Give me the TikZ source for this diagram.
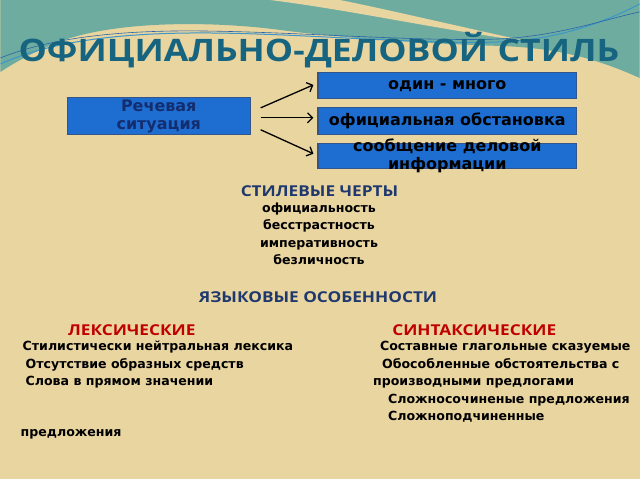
\documentclass[tikz,border=0pt]{standalone}
\usepackage{fontspec}
\setmainfont{DejaVu Sans}
\newfontfamily\headfont{Open Sans}
\usetikzlibrary{positioning, arrows.meta}

\definecolor{paper}{RGB}{233,213,160}
\definecolor{sea}{RGB}{110,172,160}
\definecolor{wave}{RGB}{60,150,200}
\definecolor{wavedark}{RGB}{40,100,170}
\definecolor{titleblue}{RGB}{22,100,128}
\definecolor{headblue}{RGB}{31,56,110}
\definecolor{boxblue}{RGB}{30,110,210}
\definecolor{boxline}{RGB}{50,85,140}
\definecolor{sitblue}{RGB}{20,45,110}
\definecolor{lexred}{RGB}{192,0,0}

\begin{document}
\begin{tikzpicture}[x=1pt, y=-1pt, node distance=17.5pt]

    \tikzset{
        bluebox/.style = {rectangle, draw=boxline, line width=1.2pt, fill=boxblue, inner sep=0pt},
        boxtext/.style = {font=\bfseries\fontsize{16}{18}\selectfont, align=center, inner sep=0pt},
        maintitle/.style = {font=\headfont\bfseries\fontsize{31}{36}\selectfont, text=titleblue, xscale=1.15, transform shape},
        heading/.style = {font=\headfont\bfseries\fontsize{15}{18}\selectfont, text=headblue, xscale=1.15, transform shape},
        feature/.style = {font=\bfseries\fontsize{12.6}{15}\selectfont, inner sep=0pt, text height=10pt, text depth=3pt},
        arrow/.style = {line width=1.3pt, ->, >={Straight Barb[length=5pt, width=10pt]}}
    }

    % background
    \fill[paper] (0,0) rectangle (640,480);
    \fill[sea] (0,0) -- (640,0) -- (640,78) .. controls (600,60) and (560,48) .. (500,46)
        .. controls (430,44) and (340,38) .. (280,30) .. controls (220,22) and (130,20) .. (70,38)
        .. controls (40,48) and (15,62) .. (0,72) -- cycle;
    \fill[paper] (270,0) .. controls (350,10) and (430,28) .. (530,42)
        .. controls (440,22) and (380,8) .. (340,0) -- cycle;
    \draw[wave, line width=1pt] (0,64) .. controls (40,46) and (100,33) .. (200,33)
        .. controls (300,33) and (420,45) .. (500,42) .. controls (560,40) and (610,20) .. (640,4);
    \draw[wavedark, line width=0.6pt] (0,58) .. controls (40,42) and (100,30) .. (200,31)
        .. controls (300,32) and (420,42) .. (500,39) .. controls (560,36) and (610,18) .. (640,12);

    \node (title) [maintitle] at (319,50) {ОФИЦИАЛЬНО-ДЕЛОВОЙ СТИЛЬ};

    \node (sit) [bluebox, minimum width=183pt, minimum height=37pt,
        label={[boxtext, text=sitblue]center:Речевая\\ситуация}] at (158.5,116.5) {};
    \node (one) [bluebox, minimum width=259pt, minimum height=26pt,
        label={[boxtext]center:один - много}] at (447.5,86) {};
    \node (two) [bluebox, minimum width=259pt, minimum height=27pt,
        label={[boxtext]center:официальная обстановка}] at (447.5,121.5) {};
    \node (three) [bluebox, minimum width=259pt, minimum height=25pt,
        label={[boxtext]center:сообщение деловой\\информации}] at (447.5,156.5) {};

    \draw [arrow] ([shift={(10,-8.5)}]sit.east) -- ([shift={(-4,-1)}]one.west);
    \draw [arrow] ([shift={(10,1.5)}]sit.east) -- ([shift={(-4,-3.5)}]two.west);
    \draw [arrow] ([shift={(10,13.5)}]sit.east) -- ([shift={(-4,-2.5)}]three.west);

    \node (traits) [heading] at (319.5,191) {СТИЛЕВЫЕ ЧЕРТЫ};
    \node (officialness) [feature] at (319,209) {официальность};
    \node (dispassion) [feature, below of=officialness] {бесстрастность};
    \node (imperative) [feature, below of=dispassion] {императивность};
    \node (impersonal) [feature, below of=imperative] {безличность};

    \node (lang) [heading] at (318,298) {ЯЗЫКОВЫЕ ОСОБЕННОСТИ};
    \node (lex) [heading, text=lexred] at (131.5,331) {ЛЕКСИЧЕСКИЕ};
    \node (syn) [heading, text=lexred] at (474.5,331) {СИНТАКСИЧЕСКИЕ};

    \node (neutral) [feature, anchor=west] at (22,348) {Стилистически нейтральная лексика};
    \node (noimages) [feature, anchor=west] at (25,366) {Отсутствие образных средств};
    \node (direct) [feature, anchor=west] at (25,383) {Слова в прямом значении};
    \node (sentences) [feature, anchor=west] at (20,434) {предложения};

    \node (predicates) [feature, anchor=west] at (380,348) {Составные глагольные сказуемые};
    \node (adverbials) [feature, anchor=west] at (382,366) {Обособленные обстоятельства с};
    \node (prepositions) [feature, anchor=west] at (373,383) {производными предлогами};
    \node (compound) [feature, anchor=west] at (388,401) {Сложносочиненые предложения};
    \node (complex) [feature, anchor=west] at (388,418) {Сложноподчиненные};

\end{tikzpicture}
\end{document}
